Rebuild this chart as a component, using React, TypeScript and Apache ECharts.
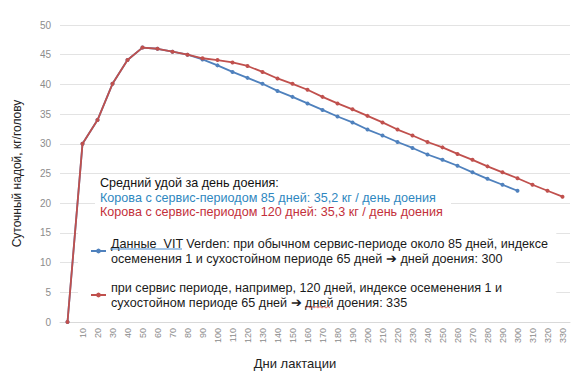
import React, { useEffect, useRef } from 'react';
import * as echarts from 'echarts';

const days = ['0', '10', '20', '30', '40', '50', '60', '70', '80', '90', '100', '110', '120', '130', '140', '150', '160', '170', '180', '190', '200', '210', '220', '230', '240', '250', '260', '270', '280', '290', '300', '310', '320', '330'];

const milk85 = [0, 30, 34, 40.1, 44.1, 46.2, 46.0, 45.5, 45.0, 44.2, 43.2, 42.1, 41.1, 40.1, 38.9, 37.9, 36.8, 35.7, 34.6, 33.6, 32.4, 31.4, 30.3, 29.3, 28.2, 27.3, 26.3, 25.2, 24.1, 23.1, 22.1];
const milk120 = [0, 30, 34, 40.1, 44.1, 46.2, 46.0, 45.5, 45.0, 44.4, 44.1, 43.7, 43.1, 42.1, 41.0, 40.1, 39.1, 37.9, 36.8, 35.8, 34.7, 33.6, 32.4, 31.4, 30.3, 29.4, 28.3, 27.3, 26.2, 25.2, 24.2, 23.1, 22.1, 21.1];

const name85 = 'Данные  VIT Verden: при обычном сервис-периоде около 85 дней, индексе\nосеменения 1 и сухостойном периоде 65 дней ➔ дней доения: 300';
const name120 = 'при сервис периоде, например, 120 дней, индексе осеменения 1 и\nсухостойном периоде 65 дней ➔ дней доения: 335';

const summaryTitle = 'Средний удой за день доения:';
const summary85 = 'Корова с сервис-периодом 85 дней: 35,2 кг / день доения';
const summary120 = 'Корова с сервис-периодом 120 дней: 35,3 кг / день доения';

const yAxisName = 'Суточный надой, кг/голову';
const xAxisName = 'Дни лактации';

const FONT = "'Liberation Sans', Arial, sans-serif";
const BLUE = '#4f81bd';
const RED = '#c0504d';

export default function App() {
  const ref = useRef<HTMLDivElement>(null);
  useEffect(() => {
    if (!ref.current) return;
    const chart = echarts.init(ref.current, undefined, { renderer: 'svg' });
    chart.setOption({
      animation: false,
      textStyle: { fontFamily: FONT },
      grid: { left: 60, right: 10, top: 25, bottom: 54 },
      xAxis: {
        type: 'category',
        data: days,
        boundaryGap: true,
        name: xAxisName,
        nameLocation: 'middle',
        nameGap: 35,
        nameTextStyle: { fontSize: 13, color: '#222', fontFamily: FONT, padding: [0, 40, 0, 0] },
        axisLine: { lineStyle: { color: '#d9d9d9' } },
        axisTick: { show: false },
        axisLabel: {
          rotate: 90,
          interval: 0,
          fontSize: 9,
          color: '#8c8c8c',
          margin: 6,
          formatter: (v: string) => (v === '0' ? '' : v),
        },
      },
      yAxis: {
        type: 'value',
        min: 0,
        max: 50,
        interval: 5,
        name: yAxisName,
        nameLocation: 'middle',
        nameGap: 37,
        nameTextStyle: { fontSize: 12, color: '#222', fontFamily: FONT },
        axisLine: { show: false },
        axisTick: { show: false },
        axisLabel: { fontSize: 10, color: '#8c8c8c', margin: 9 },
        splitLine: { lineStyle: { color: '#e3e3e3' } },
      },
      legend: {
        orient: 'vertical',
        left: 78,
        top: 233,
        padding: [3, 8, 3, 12],
        backgroundColor: '#ffffff',
        itemGap: 14,
        itemWidth: 15,
        itemHeight: 6,
        data: [name85, name120],
        textStyle: { fontSize: 12.6, lineHeight: 15, color: '#1a1a1a', fontFamily: FONT },
      },
      series: [
        {
          name: name85,
          type: 'line',
          data: milk85,
          symbol: 'circle',
          symbolSize: 4,
          lineStyle: { color: BLUE, width: 1.8 },
          itemStyle: { color: BLUE },
          z: 2,
        },
        {
          name: name120,
          type: 'line',
          data: milk120,
          symbol: 'circle',
          symbolSize: 4,
          lineStyle: { color: RED, width: 1.8 },
          itemStyle: { color: RED },
          z: 3,
        },
      ],
      graphic: [
        {
          type: 'rect',
          shape: { x: 95, y: 176, width: 356, height: 44 },
          style: { fill: '#ffffff' },
          z: 5,
        },
        {
          type: 'text',
          x: 100,
          y: 183,
          z: 6,
          style: { text: summaryTitle, fill: '#111', fontSize: 12.6, fontFamily: FONT, verticalAlign: 'middle' },
        },
        {
          type: 'text',
          x: 100,
          y: 197.5,
          z: 6,
          style: { text: summary85, fill: '#2f87c0', fontSize: 12.6, fontFamily: FONT, verticalAlign: 'middle' },
        },
        {
          type: 'text',
          x: 100,
          y: 212,
          z: 6,
          style: { text: summary120, fill: '#c3303a', fontSize: 12.6, fontFamily: FONT, verticalAlign: 'middle' },
        },
        {
          type: 'line',
          shape: { x1: 110, y1: 249, x2: 182, y2: 249 },
          style: { stroke: '#4a8ccf', lineWidth: 1.2 },
          z: 10,
        },
        {
          type: 'polyline',
          shape: { points: [[306, 308], [308, 306.5], [310, 308], [312, 306.5], [314, 308], [316, 306.5], [318, 308], [320, 306.5], [322, 308], [324, 306.5], [326, 308], [328, 306.5], [330, 308]] },
          style: { stroke: '#d9534f', lineWidth: 0.8, fill: 'none' },
          z: 10,
        },
      ],
    });
    return () => chart.dispose();
  }, []);
  return <div ref={ref} style={{ position: 'fixed', left: 0, top: 0, width: 580, height: 376, background: '#fff' }} />;
}
